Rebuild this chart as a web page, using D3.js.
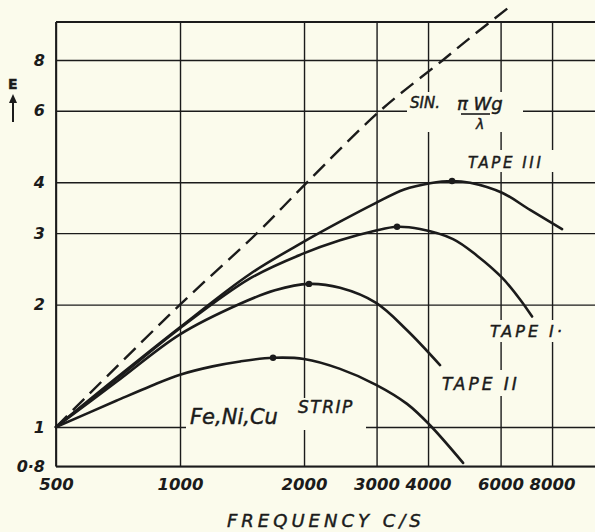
<!DOCTYPE html>
<html><head><meta charset="utf-8">
<script src="https://cdn.jsdelivr.net/npm/d3@7"></script>
<style>
html,body{margin:0;padding:0;background:#fbfbec;}
svg{display:block;}
</style></head><body>
<svg id="c" width="595" height="532"></svg>
<script>
// ---- data ----
const xTicks = [500, 1000, 2000, 3000, 4000, 6000, 8000];
const xTickLabels = ["500", "1000", "2000", "3000", "4000", "6000", "8000"];
const yTicks = [0.8, 1, 2, 3, 4, 6, 8];
const yTickLabels = ["0·8", "1", "2", "3", "4", "6", "8"];

const sinF = [500, 1000, 1538, 2034, 3061, 4350, 5060, 6395];
const sinE = [1, 2.0, 3.0, 4.0, 6.0, 8.0, 9.07, 10.93];

const tape3F = [500, 700, 1000, 1479, 1989, 2446, 2975, 3500, 4045, 4574, 5060, 6050, 7075, 8460];
const tape3E = [1, 1.32, 1.76, 2.38, 2.85, 3.20, 3.55, 3.84, 3.98, 4.03, 3.99, 3.77, 3.42, 3.07];

const tape1F = [500, 700, 1000, 1479, 1989, 2446, 2975, 3364, 3824, 4600, 5260, 6050, 6690, 7155];
const tape1E = [1, 1.31, 1.75, 2.32, 2.67, 2.88, 3.04, 3.11, 3.07, 2.90, 2.64, 2.33, 2.06, 1.87];

const tape2F = [500, 700, 1000, 1399, 1700, 2056, 2446, 2992, 3557, 4277];
const tape2E = [1, 1.29, 1.69, 2.01, 2.17, 2.25, 2.20, 2.02, 1.73, 1.42];

const stripF = [500, 700, 850, 1000, 1200, 1399, 1682, 2000, 2446, 2992, 3557, 4045, 4865];
const stripE = [1, 1.16, 1.262, 1.345, 1.41, 1.45, 1.48, 1.47, 1.39, 1.27, 1.14, 1.01, 0.816];

const peakF = [4574, 3364, 2056, 1682];
const peakE = [4.03, 3.11, 2.25, 1.48];

// ---- drawing ----
const W = 595, H = 532;
const bg = "#fbfbec", ink = "#1b1b1b";
const svg = d3.select("#c");
svg.append("rect").attr("width", W).attr("height", H).attr("fill", bg);

const x = d3.scaleLog().domain([500, 10170]).range([56, 595]);
const y = d3.scaleLog().domain([0.8, 9.92]).range([466.4, 22]);

const tickFont = s => s.attr("font-family", "DejaVu Sans").attr("font-weight", "bold")
  .attr("font-style", "italic").attr("fill", ink);

// vertical grid + x labels
const gx = svg.append("g").attr("transform", `translate(0,${y(0.8)})`)
  .call(d3.axisBottom(x).tickValues(xTicks).tickFormat((d, i) => xTickLabels[i])
    .tickSize(-(y(0.8) - y(9.92))).tickPadding(12));
gx.select(".domain").remove();
gx.selectAll("line").attr("stroke", ink).attr("stroke-width", 1.4);
gx.selectAll("text").call(tickFont).attr("font-size", 16.5);

// horizontal grid + y labels
const gy = svg.append("g").attr("transform", `translate(${x(500)},0)`)
  .call(d3.axisLeft(y).tickValues(yTicks).tickFormat((d, i) => yTickLabels[i])
    .tickSize(-(W - x(500))).tickPadding(11));
gy.select(".domain").remove();
gy.selectAll("line").attr("stroke", ink).attr("stroke-width", 1.4);
gy.selectAll("text").call(tickFont).attr("font-size", 16);

// frame
svg.append("line").attr("x1", x(500)).attr("x2", W).attr("y1", y(9.92)).attr("y2", y(9.92))
  .attr("stroke", ink).attr("stroke-width", 1.8);
svg.append("line").attr("x1", x(500)).attr("x2", W).attr("y1", y(0.8)).attr("y2", y(0.8))
  .attr("stroke", ink).attr("stroke-width", 1.8);
svg.append("line").attr("x1", x(500)).attr("x2", x(500)).attr("y1", y(9.92)).attr("y2", y(0.8))
  .attr("stroke", ink).attr("stroke-width", 1.8);

// label masks (grid is broken where the lettering sits)
const masks = [
  [407, 92, 116, 40],
  [464, 150, 98, 22],
  [486, 320, 96, 22],
  [438, 370, 100, 26],
  [186, 398, 180, 32]
];
svg.append("g").selectAll("rect").data(masks).join("rect")
  .attr("x", d => d[0]).attr("y", d => d[1]).attr("width", d => d[2]).attr("height", d => d[3])
  .attr("fill", bg);

// curves
const line = d3.line().x(d => x(d[0])).y(d => y(d[1])).curve(d3.curveCatmullRom.alpha(0.5));
const zip = (a, b) => a.map((v, i) => [v, b[i]]);
const series = [
  [tape3F, tape3E], [tape1F, tape1E], [tape2F, tape2E], [stripF, stripE]
];
svg.append("g").selectAll("path").data(series).join("path")
  .attr("d", d => line(zip(d[0], d[1])))
  .attr("fill", "none").attr("stroke", ink).attr("stroke-width", 2.6)
  .attr("stroke-linecap", "round");

svg.append("path").attr("d", line(zip(sinF, sinE)))
  .attr("fill", "none").attr("stroke", ink).attr("stroke-width", 2.4)
  .attr("stroke-dasharray", "16,8");

svg.append("g").selectAll("circle").data(zip(peakF, peakE)).join("circle")
  .attr("cx", d => x(d[0])).attr("cy", d => y(d[1])).attr("r", 3.2).attr("fill", ink);

// annotations
const lab = (tx, ty, str, size, bold) => svg.append("text").attr("x", tx).attr("y", ty)
  .attr("font-family", "DejaVu Sans").attr("font-style", "italic")
  .attr("font-weight", bold ? "bold" : "normal").attr("font-size", size)
  .attr("fill", ink).attr("stroke", ink).attr("stroke-width", 0.45).text(str);

lab(410, 108, "SIN.", 15, false);
lab(457, 110, "π Wg", 18, false);
svg.append("line").attr("x1", 461).attr("x2", 490).attr("y1", 114).attr("y2", 114)
  .attr("stroke", ink).attr("stroke-width", 1.6);
lab(476, 129, "λ", 14, false);

lab(468, 168, "TAPE III", 15, false).attr("letter-spacing", 2.6);
lab(490, 337, "TAPE I·", 16, false).attr("letter-spacing", 3);
lab(442, 390, "TAPE II", 17, false).attr("letter-spacing", 3);
lab(190, 424, "Fe,Ni,Cu", 21, false);
lab(298, 413, "STRIP", 17, false).attr("letter-spacing", 1.5);

lab(227, 527, "FREQUENCY  C/S", 18, false).attr("letter-spacing", 4);

// y label E with arrow
lab(8, 89, "E", 14, true).attr("font-style", "normal");
svg.append("line").attr("x1", 13).attr("x2", 13).attr("y1", 100).attr("y2", 122)
  .attr("stroke", ink).attr("stroke-width", 2);
svg.append("path").attr("d", "M9,103 L13,94 L17,103 Z").attr("fill", ink);
</script>
</body></html>
